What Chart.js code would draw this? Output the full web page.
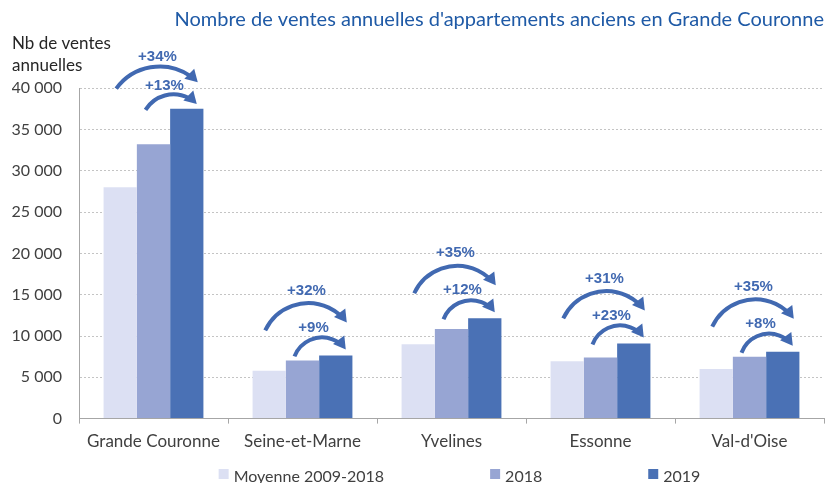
<!DOCTYPE html>
<html lang="fr">
<head>
<meta charset="utf-8">
<title>Ventes annuelles d'appartements anciens en Grande Couronne</title>
<script src="https://cdn.jsdelivr.net/npm/chart.js@4.4.1/dist/chart.umd.min.js"></script>
<style>
  html, body { margin: 0; padding: 0; background: #fff; }
  #wrap { position: relative; width: 825px; height: 483px; }
</style>
</head>
<body>
<div id="wrap"><canvas id="chart"></canvas></div>
<script>
// donnees
const departements = ["Grande Couronne", "Seine-et-Marne", "Yvelines", "Essonne", "Val-d'Oise"];
const moyenne20092018 = [28000, 5800, 9000, 6950, 6000];
const ventes2018 = [33200, 7030, 10850, 7400, 7500];
const ventes2019 = [37500, 7650, 12150, 9100, 8100];
const evolVsMoyenne = ["+34%", "+32%", "+35%", "+31%", "+35%"];
const evolVs2018 = ["+13%", "+9%", "+12%", "+23%", "+8%"];
const yMax = 40000;
const yStep = 5000;

const bleuFleche = "#4169b1";
const police = "Lato, 'Open Sans', sans-serif";

function milliers(v) {
  return String(v).replace(/\B(?=(\d{3})+(?!\d))/g, " ");
}

// arc de cercle passant par depart, sommet et pointe, avec tete de fleche
function arcFleche(ctx, x0, y0, xa, ya, x2, y2) {
  const d = 2 * (x0 * (ya - y2) + xa * (y2 - y0) + x2 * (y0 - ya));
  const s0 = x0 * x0 + y0 * y0, sa = xa * xa + ya * ya, s2 = x2 * x2 + y2 * y2;
  const cx = (s0 * (ya - y2) + sa * (y2 - y0) + s2 * (y0 - ya)) / d;
  const cy = (s0 * (x2 - xa) + sa * (x0 - x2) + s2 * (xa - x0)) / d;
  const r = Math.hypot(x0 - cx, y0 - cy);
  const a0 = Math.atan2(y0 - cy, x0 - cx);
  const a2 = Math.atan2(y2 - cy, x2 - cx);
  const head = 12, half = 7;
  // tangente au bout (sens horaire a l'ecran)
  const dx = -Math.sin(a2), dy = Math.cos(a2);
  const bx = x2 - dx * head, by = y2 - dy * head;
  ctx.beginPath();
  ctx.arc(cx, cy, r, a0, a2 - (head - 2) / r, false);
  ctx.lineWidth = 4;
  ctx.strokeStyle = bleuFleche;
  ctx.stroke();
  ctx.beginPath();
  ctx.moveTo(x2, y2);
  ctx.lineTo(bx - dy * half, by + dx * half);
  ctx.lineTo(bx + dy * half, by - dx * half);
  ctx.closePath();
  ctx.fillStyle = bleuFleche;
  ctx.fill();
}

const fleches = {
  id: "fleches",
  afterDatasetsDraw(chart) {
    const ctx = chart.ctx;
    const m0 = chart.getDatasetMeta(0).data;
    const m1 = chart.getDatasetMeta(1).data;
    const m2 = chart.getDatasetMeta(2).data;
    ctx.save();
    ctx.lineCap = "butt";
    departements.forEach((d, i) => {
      const b0 = m0[i], b1 = m1[i], b2 = m2[i];
      const top = b2.y;
      // on resserre quand la barre touche le haut du graphique
      const k = Math.min(1, (top - chart.chartArea.top + 60) / 100);
      arcFleche(ctx, b0.x - 4, top - 25 * k, b1.x, top - 52 * k, b2.x + 11, top - 33 * k);
      arcFleche(ctx, b1.x - 8, top + 1, (b1.x + b2.x) / 2 + 2, top - 18 * k, b2.x + 10, top - 6 * k);
      ctx.fillStyle = bleuFleche;
      ctx.font = "bold 15px 'Liberation Sans', Arial, sans-serif";
      ctx.textAlign = "center";
      ctx.textBaseline = "middle";
      ctx.fillText(evolVsMoyenne[i], b1.x + 4, top - 65 * k);
      ctx.fillText(evolVs2018[i], b1.x + 11, top - 28 * k);
    });
    ctx.restore();
  }
};

const legendeBas = {
  id: "legendeBas",
  afterDraw(chart) {
    const { ctx, chartArea } = chart;
    ctx.save();
    ctx.font = "16px " + police;
    const box = 10, gap = 5, ecart = 106;
    const items = chart.data.datasets.map(ds => ({
      text: ds.label,
      color: ds.backgroundColor,
      w: box + gap + ctx.measureText(ds.label).width
    }));
    const total = items.reduce((s, it) => s + it.w, 0) + ecart * (items.length - 1);
    let x = (chartArea.left + chartArea.right) / 2 + 8 - total / 2;
    items.forEach(it => {
      ctx.fillStyle = it.color;
      ctx.fillRect(x, 469, box, box);
      ctx.fillStyle = "#404040";
      ctx.textBaseline = "middle";
      ctx.textAlign = "left";
      ctx.fillText(it.text, x + box + gap, 477);
      x += it.w + ecart;
    });
    ctx.restore();
  }
};

new Chart(document.getElementById("chart"), {
  type: "bar",
  data: {
    labels: departements,
    datasets: [
      { label: "Moyenne 2009-2018", data: moyenne20092018, backgroundColor: "#dce0f3" },
      { label: "2018", data: ventes2018, backgroundColor: "#97a5d3" },
      { label: "2019", data: ventes2019, backgroundColor: "#4a71b5" }
    ]
  },
  options: {
    responsive: true,
    maintainAspectRatio: false,
    animation: false,
    layout: { padding: { left: 12, right: 1, top: 0, bottom: 23 } },
    datasets: {
      bar: { categoryPercentage: 0.67, barPercentage: 1.0 }
    },
    plugins: {
      legend: { display: false },
      tooltip: { enabled: false },
      title: {
        display: true,
        text: "Nombre de ventes annuelles d'appartements anciens en Grande Couronne",
        align: "end",
        color: "#1f5aa6",
        font: { family: police, size: 20, weight: "normal", lineHeight: 1.2 },
        padding: { top: 8, bottom: 0 }
      },
      subtitle: {
        display: true,
        text: ["Nb de ventes", "annuelles"],
        align: "start",
        color: "#262626",
        font: { family: police, size: 17, lineHeight: 1.3 },
        padding: { top: 0, bottom: 12 }
      }
    },
    scales: {
      x: {
        grid: { display: true, drawOnChartArea: false, tickLength: 5, color: "#a6a6a6" },
        border: { color: "#a6a6a6" },
        ticks: { color: "#404040", font: { family: police, size: 17 }, padding: 8 }
      },
      y: {
        min: 0,
        max: yMax,
        ticks: {
          stepSize: yStep,
          color: "#404040",
          font: { family: police, size: 16 },
          padding: 17,
          callback: v => milliers(v)
        },
        grid: { color: "#c4c4c4", drawTicks: false },
        border: { color: "#a6a6a6", dash: [2, 2] },
        afterFit(scale) { scale.width = 67; }
      }
    }
  },
  plugins: [fleches, legendeBas]
});
</script>
</body>
</html>
